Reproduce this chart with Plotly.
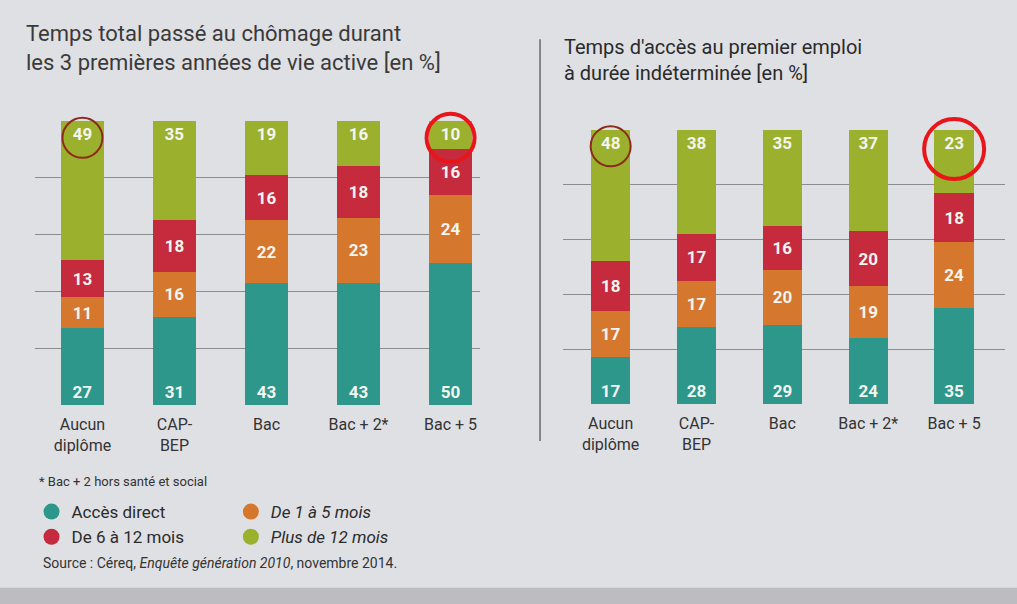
import plotly.graph_objects as go

categories = ["Aucun<br>diplôme", "CAP-<br>BEP", "Bac", "Bac + 2*", "Bac + 5"]
series_names = ["Accès direct", "De 1 à 5 mois", "De 6 à 12 mois", "Plus de 12 mois"]
legend_labels = ["Accès direct", "<i>De 1 à 5 mois</i>", "De 6 à 12 mois", "<i>Plus de 12 mois</i>"]

# Left panel: total time unemployed during first 3 years
left_direct = [27, 31, 43, 43, 50]
left_1_5 = [11, 16, 22, 23, 24]
left_6_12 = [13, 18, 16, 18, 16]
left_12plus = [49, 35, 19, 16, 10]

# Right panel: time to access first permanent job
right_direct = [17, 28, 29, 24, 35]
right_1_5 = [17, 17, 20, 19, 24]
right_6_12 = [18, 17, 16, 20, 18]
right_12plus = [48, 38, 35, 37, 23]

left_title = "Temps total passé au chômage durant<br>les 3 premières années de vie active [en %]"
right_title = "Temps d'accès au premier emploi<br>à durée indéterminée [en %]"
footnote = "* Bac + 2 hors santé et social"
source = "Source : Céreq, <i>Enquête génération 2010</i>, novembre 2014."

# highlighted categories (index, style)
highlights = [(0, "thin"), (4, "thick")]

colors = ["#2c978a", "#d5782d", "#c62a3d", "#9bb02c"]
anchors = ["start", "middle", "middle", "end"]
FONT = "Roboto"

fig = go.Figure()

panels = [
    ("x", "y", [left_direct, left_1_5, left_6_12, left_12plus], 48, 6),
    ("x2", "y2", [right_direct, right_1_5, right_6_12, right_12plus], 60, 7),
]

for xa, ya, data, thick_size, thick_off in panels:
    for i, vals in enumerate(data):
        fig.add_trace(go.Bar(
            x=categories, y=vals, xaxis=xa, yaxis=ya,
            marker=dict(color=colors[i], line=dict(width=0)),
            text=vals, textposition="inside", insidetextanchor=anchors[i],
            textangle=0, constraintext="none",
            textfont=dict(color="#f4f4f0", size=17, family=FONT, weight="bold"),
            showlegend=False, name=series_names[i], hoverinfo="skip",
        ))
    totals = [a + b + c + d for a, b, c, d in zip(*data)]
    for idx, style in highlights:
        if style == "thick":
            mk = dict(symbol="circle-open", size=thick_size, color="#e8151a",
                      line=dict(width=4, color="#e8151a"))
            yc = totals[idx] - thick_off
        else:
            mk = dict(symbol="circle-open", size=40, color="#8e2a1c",
                      line=dict(width=2, color="#8e2a1c"))
            yc = totals[idx] - 6
        fig.add_trace(go.Scatter(
            x=[categories[idx]], y=[yc], xaxis=xa, yaxis=ya, mode="markers",
            marker=mk, showlegend=False, hoverinfo="skip", cliponaxis=False,
        ))

# legend entries (circle markers)
for i, lab in enumerate(legend_labels):
    fig.add_trace(go.Scatter(
        x=[None], y=[None], mode="markers", name=lab,
        marker=dict(symbol="circle", size=17, color=colors[i]),
        legend="legend" if i % 2 == 0 else "legend2",
        xaxis="x", yaxis="y",
    ))

axis_common = dict(showline=False, zeroline=False, ticks="", ticklabelstandoff=8,
                   tickfont=dict(size=16, color="#333333", family=FONT))
legend_common = dict(xanchor="left", yanchor="top", bgcolor="rgba(0,0,0,0)",
                     font=dict(size=17, color="#2b2b2b", family=FONT),
                     tracegroupgap=0, itemwidth=30, traceorder="normal")
fig.update_layout(
    width=1017, height=604,
    margin=dict(l=0, r=0, t=0, b=0),
    paper_bgcolor="#dfe0e4", plot_bgcolor="rgba(0,0,0,0)",
    barmode="stack", bargap=0.54,
    font=dict(family=FONT, color="#333333"),
    xaxis=dict(domain=[0.034, 0.472], range=[-0.52, 4.32], showgrid=False, **axis_common),
    yaxis=dict(domain=[0.329, 0.80], range=[0, 100], dtick=20, showgrid=True,
               gridcolor="#8c8c8c", gridwidth=1, showticklabels=False,
               zeroline=False, showline=False),
    xaxis2=dict(domain=[0.554, 0.988], range=[-0.55, 4.59], showgrid=False,
                anchor="y2", **axis_common),
    yaxis2=dict(domain=[0.331, 0.785], range=[0, 100], dtick=20, showgrid=True,
                gridcolor="#8c8c8c", gridwidth=1, showticklabels=False,
                zeroline=False, showline=False, anchor="x2"),
    legend=dict(x=0.031, y=0.182, **legend_common),
    legend2=dict(x=0.227, y=0.182, **legend_common),
)

fig.add_annotation(text=left_title, xref="paper", yref="paper", x=0.024, y=0.968,
                   xanchor="left", yanchor="top", align="left", showarrow=False,
                   font=dict(size=22, color="#3a3a3a", family=FONT))
fig.add_annotation(text=right_title, xref="paper", yref="paper", x=0.553, y=0.946,
                   xanchor="left", yanchor="top", align="left", showarrow=False,
                   font=dict(size=20, color="#2a2a2a", family=FONT))
fig.add_annotation(text=footnote, xref="paper", yref="paper", x=0.036, y=0.203,
                   xanchor="left", yanchor="middle", showarrow=False,
                   font=dict(size=13, color="#333333", family=FONT))
fig.add_annotation(text=source, xref="paper", yref="paper", x=0.04, y=0.068,
                   xanchor="left", yanchor="middle", showarrow=False,
                   font=dict(size=14, color="#333333", family=FONT))

# separator line between panels and bottom grey strip
fig.add_shape(type="line", xref="paper", yref="paper", x0=0.531, x1=0.531, y0=0.27, y1=0.935,
              line=dict(color="#6a6a6a", width=1.5))
fig.add_shape(type="rect", xref="paper", yref="paper", x0=0, x1=1, y0=0, y1=0.027,
              fillcolor="#bdbdc1", line=dict(width=0), layer="below")

fig.write_html("out.html", config={"displayModeBar": False},
               post_script="document.body.style.margin='0';")
